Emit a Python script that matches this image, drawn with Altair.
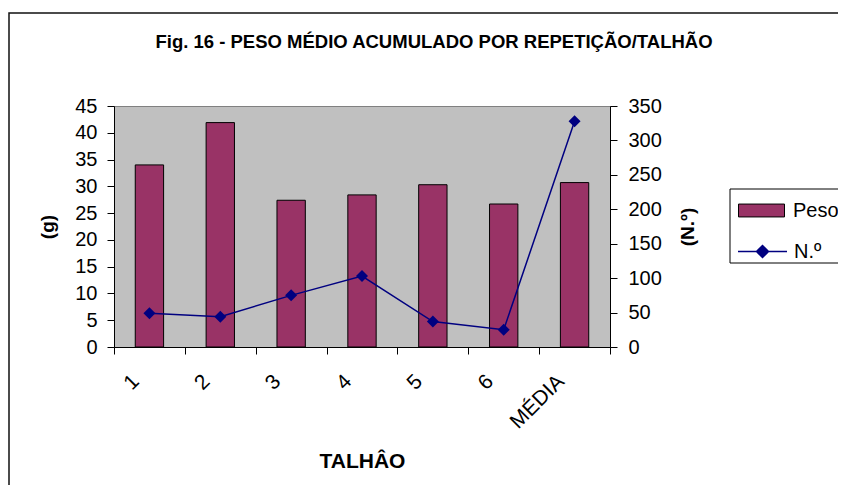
import altair as alt
import pandas as pd

categories = ["1", "2", "3", "4", "5", "6", "MÉDIA"]
peso = [34.0, 41.9, 27.4, 28.4, 30.3, 26.7, 30.7]
numero = [49, 44, 75, 103, 37, 25, 328]
left_ticks = [0, 5, 10, 15, 20, 25, 30, 35, 40, 45]
right_ticks = [0, 50, 100, 150, 200, 250, 300, 350]

df = pd.DataFrame({"talhao": categories, "peso": peso, "num": numero})
deco = pd.DataFrame({"k": [0]})

FONT = "Liberation Sans"
BAR = "#993366"
NAVY = "#000080"

x_enc = alt.X(
    "talhao:N",
    sort=categories,
    scale=alt.Scale(paddingInner=0, paddingOuter=0),
    axis=alt.Axis(
        title="TALHÂO",
        labelAngle=315,
        labelAlign="right",
        labelBaseline="middle",
        labelFontSize=21,
        labelPadding=24,
        labelOffset=-14,
        tickBand="extent",
        tickSize=7,
        titleFontSize=21,
        titleFontWeight="bold",
        titlePadding=18,
    ),
)

frame = alt.Chart(deco).mark_rect(fillOpacity=0, stroke="#111111", strokeWidth=1.5).encode(
    x=alt.value(-105), x2=alt.value(800), y=alt.value(-93), y2=alt.value(600)
)

bars = alt.Chart(df).transform_calculate(serie="'Peso'").mark_bar(
    width=alt.RelativeBandSize(0.4), stroke="black", strokeWidth=1
).encode(
    x=x_enc,
    y=alt.Y(
        "peso:Q",
        scale=alt.Scale(domain=[0, 45], nice=False),
        axis=alt.Axis(
            orient="left",
            values=left_ticks,
            title="(g)",
            titleFontSize=19,
            titleFontWeight="bold",
            titlePadding=17,
            labelPadding=10,
        ),
    ),
    fill=alt.Fill(
        "serie:N",
        scale=alt.Scale(domain=["Peso"], range=[BAR]),
        legend=alt.Legend(
            orient="none",
            legendX=624,
            legendY=81,
            title=None,
            symbolType="M-1,-0.28H1V0.28H-1Z",
            symbolSize=2116,
            symbolStrokeColor="black",
            symbolStrokeWidth=1,
            labelFontSize=20,
            labelOffset=8,
            padding=0,
        ),
    ),
)

line = alt.Chart(df).transform_calculate(serie2="'N.º'").mark_line(strokeWidth=1.5).encode(
    x=x_enc,
    y=alt.Y(
        "num:Q",
        scale=alt.Scale(domain=[0, 350], nice=False),
        axis=alt.Axis(
            orient="right",
            values=right_ticks,
            title="(N.º)",
            titleAngle=270,
            titleFontSize=19,
            titleFontWeight="bold",
            titlePadding=36,
            labelPadding=11,
        ),
    ),
    stroke=alt.Stroke(
        "serie2:N",
        scale=alt.Scale(domain=["N.º"], range=[NAVY]),
        legend=alt.Legend(
            orient="none",
            legendX=623,
            legendY=120,
            title=None,
            symbolType="M-1,0H1M0,-0.245L0.245,0L0,0.245L-0.245,0Z",
            symbolSize=2401,
            symbolStrokeColor=NAVY,
            symbolFillColor=NAVY,
            symbolStrokeWidth=1.5,
            labelFontSize=20,
            labelOffset=6,
            padding=0,
        ),
    ),
)

points = alt.Chart(df).mark_point(
    shape="diamond", filled=True, size=144, color=NAVY, opacity=1
).encode(
    x=x_enc,
    y=alt.Y("num:Q", scale=alt.Scale(domain=[0, 350], nice=False), axis=None),
)

legend_box = alt.Chart(deco).mark_rect(fill="white", stroke="black", strokeWidth=1).encode(
    x=alt.value(616), x2=alt.value(760), y=alt.value(83), y2=alt.value(157)
)

chart = (
    alt.layer(frame, bars, line, points, legend_box)
    .resolve_scale(y="independent")
    .properties(
        width=496,
        height=241,
        autosize=alt.AutoSizeParams(type="none"),
        padding={"left": 106, "top": 98, "right": 228, "bottom": 138},
        background="white",
        title=alt.TitleParams(
            "Fig. 16 - PESO MÉDIO ACUMULADO POR REPETIÇÃO/TALHÃO",
            fontSize=18.5,
            fontWeight="bold",
            font=FONT,
            anchor="middle",
            frame="group",
            baseline="alphabetic",
            dx=72,
            dy=54,
            offset=0,
            color="black",
        ),
    )
    .configure_view(fill="#C0C0C0", stroke="#808080", strokeWidth=1)
    .configure_axis(
        grid=False,
        labelFont=FONT,
        titleFont=FONT,
        labelColor="black",
        titleColor="black",
        domainColor="black",
        tickColor="black",
        domainWidth=1,
        tickWidth=1,
        tickSize=7,
        labelFontSize=20,
    )
    .configure_legend(labelFont=FONT, labelColor="black")
)

chart.save("out.html", embed_options={"renderer": "svg", "actions": False})
